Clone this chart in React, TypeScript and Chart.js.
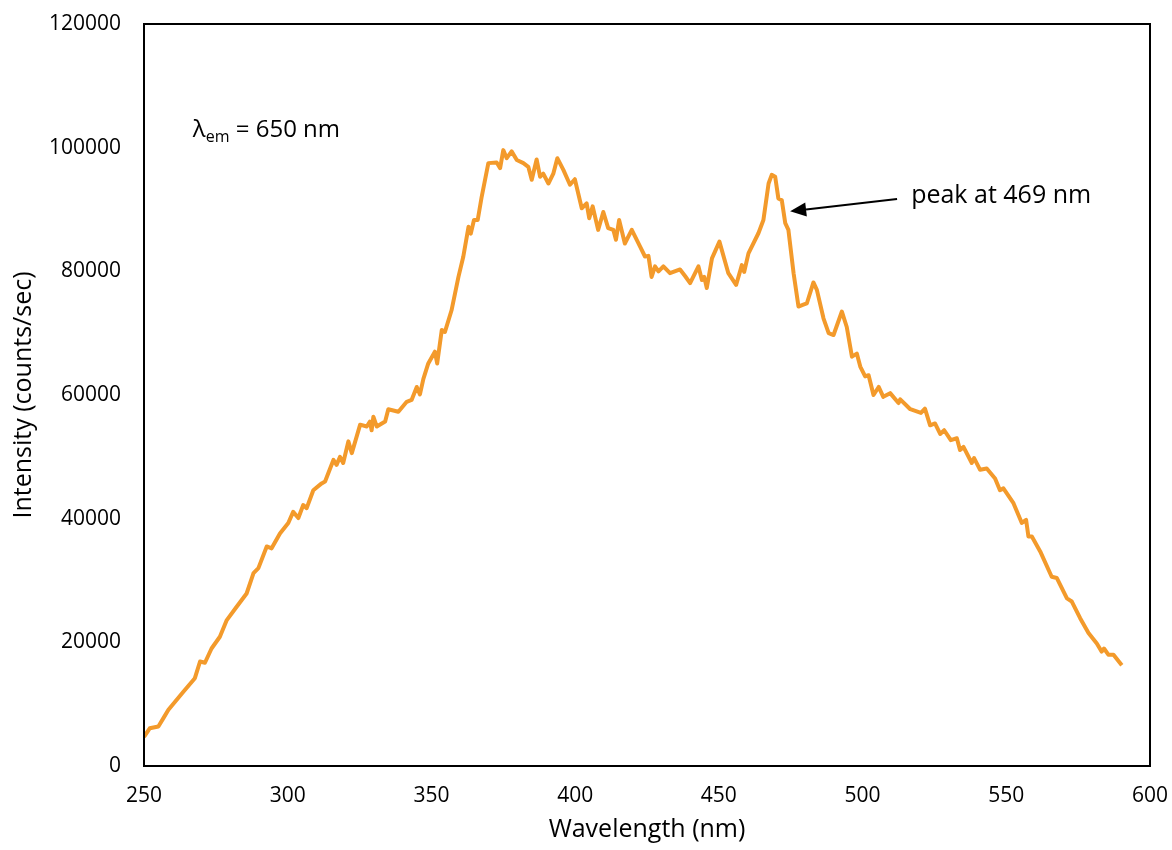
import React, { useEffect, useRef } from "react";
import { Chart, registerables } from "chart.js";

Chart.register(...registerables);

const wavelengths = [
  250, 252, 255, 256.7, 258.5, 263.7, 267.7, 269.5, 271.2, 273.5, 276.4, 278.8, 282.3, 285.7, 288.1, 289.8,
  292.7, 294.4, 297.3, 300.2, 301.9, 303.7, 305.4, 306.6, 308.9, 311.8, 313, 315.9, 317, 318.2, 319.3, 321.1,
  322.3, 325.2, 327.5, 328.6, 329.2, 329.8, 331, 333.9, 335, 338.5, 341.4, 343.1, 344.9, 346, 347.2, 348.9,
  351.2, 352, 353.6, 354.7, 357, 359.4, 361.1, 362.9, 363.7, 364.8, 366.1, 367.5, 369.8, 372.7, 373.9, 375,
  376.2, 377.9, 379.7, 382, 383.7, 384.9, 386.6, 387.8, 388.9, 390.7, 392.4, 393.8, 395.9, 398.2, 399.9, 402.3,
  404, 404.9, 406.1, 408, 409.8, 411.5, 413.3, 414.2, 415.3, 417.3, 419.7, 422.6, 424.3, 425.5, 426.6, 427.8,
  429, 430.7, 433, 436.5, 438.3, 440, 442.9, 444.1, 444.9, 445.8, 447.6, 450.2, 453.3, 456, 458, 458.8,
  460.3, 463.8, 465.5, 467.3, 468.4, 469.6, 470.7, 471.9, 473.1, 474.2, 476, 477.7, 479.4, 480.6, 482.9, 484.1,
  486.4, 488.2, 489.9, 492.8, 494.5, 496.3, 498, 499.2, 500.9, 502.1, 503.8, 505.6, 507.2, 509.6, 512.5, 513.1,
  516.6, 520.3, 521.7, 523.5, 525.2, 527, 528.4, 530.7, 532.8, 533.9, 535.1, 538, 538.8, 540.9, 543.2, 546.1,
  547.8, 549, 552.5, 555.4, 556.9, 557.7, 558.9, 561.8, 565.8, 567.6, 571.1, 572.8, 575.7, 578.6, 581.5, 583.2,
  584, 585.5, 587.3, 590.2,
];

const intensities = [
  4700, 6100, 6400, 7700, 9100, 12000, 14200, 16900, 16700, 19000, 20900, 23600, 25800, 27900, 31200, 32000,
  35500, 35200, 37600, 39300, 41100, 40100, 42200, 41700, 44600, 45700, 46000, 49500, 48700, 50000, 49000, 52500,
  50600, 55200, 54900, 55700, 54300, 56500, 54900, 55700, 57700, 57300, 58900, 59200, 61300, 60100, 62600, 65100,
  67000, 65100, 70500, 70200, 73700, 79100, 82400, 87200, 86100, 88300, 88300, 92100, 97500, 97600, 96700, 99600,
  98300, 99400, 98000, 97500, 96900, 94800, 98100, 95300, 95800, 94200, 95800, 98300, 96400, 94000, 94900, 90200,
  91000, 88600, 90500, 86700, 89600, 87000, 86700, 85100, 88300, 84500, 86700, 84000, 82400, 82500, 79100, 80800,
  80000, 80800, 79700, 80300, 79200, 78100, 80800, 78600, 79100, 77300, 82100, 84800, 79700, 77800, 81000, 79900,
  82900, 86200, 88300, 94200, 95600, 95300, 91800, 91500, 87800, 86700, 79700, 74300, 74600, 74800, 78200, 77000,
  72400, 70000, 69700, 73500, 71000, 66200, 66700, 64600, 63000, 63200, 60000, 61300, 59700, 60300, 58700, 59300,
  57700, 57100, 57800, 55100, 55400, 53700, 54300, 52700, 53000, 51100, 51600, 49000, 49800, 47900, 48100, 46500,
  44600, 44900, 42500, 39300, 39800, 37100, 37100, 34700, 30600, 30400, 27100, 26600, 23900, 21500, 19800, 18500,
  19000, 18000, 18000, 16300,
];

const xMin = 250;
const xMax = 600;
const xStep = 50;
const yMin = 0;
const yMax = 120000;
const yStep = 20000;
const xTitle = "Wavelength (nm)";
const yTitle = "Intensity (counts/sec)";

// annotation anchors (data units)
const lambdaLabelPos = [267, 102800];
const peakTextPos = [516.9, 92200];
const arrowTail = [512, 91700];
const arrowTip = [474.8, 89700];
const peakText = "peak at 469 nm";

const FONT = '"Open Sans", "DejaVu Sans", sans-serif';
const LINE_COLOR = "#F39A2B";
const TEXT_COLOR = "#000";

const annotPlugin = {
  id: "annot",
  afterDraw(chart: any) {
    const { ctx, chartArea, scales } = chart;
    const { left, top, right, bottom } = chartArea;
    const x = scales.x;
    const y = scales.y;
    ctx.save();
    // frame
    ctx.strokeStyle = "#000";
    ctx.lineWidth = 2;
    ctx.strokeRect(left, top, right - left, bottom - top);

    ctx.fillStyle = TEXT_COLOR;
    ctx.textBaseline = "middle";
    ctx.textAlign = "left";
    // lambda label
    let px = x.getPixelForValue(lambdaLabelPos[0]);
    let py = y.getPixelForValue(lambdaLabelPos[1]);
    ctx.font = `24px ${FONT}`;
    ctx.fillText("λ", px, py);
    const w = ctx.measureText("λ").width;
    ctx.font = `16px ${FONT}`;
    ctx.fillText("em", px + w, py + 7);
    const w2 = ctx.measureText("em").width;
    ctx.font = `24px ${FONT}`;
    ctx.fillText(" = 650 nm", px + w + w2, py);

    // peak text
    px = x.getPixelForValue(peakTextPos[0]);
    py = y.getPixelForValue(peakTextPos[1]);
    ctx.font = `25px ${FONT}`;
    ctx.fillText(peakText, px, py);

    // arrow
    const tx = x.getPixelForValue(arrowTail[0]);
    const ty = y.getPixelForValue(arrowTail[1]);
    const hx = x.getPixelForValue(arrowTip[0]);
    const hy = y.getPixelForValue(arrowTip[1]);
    const ang = Math.atan2(hy - ty, hx - tx);
    const headLen = 16;
    const headW = 7;
    const bx = hx - headLen * Math.cos(ang);
    const by = hy - headLen * Math.sin(ang);
    ctx.strokeStyle = "#000";
    ctx.lineWidth = 2;
    ctx.beginPath();
    ctx.moveTo(tx, ty);
    ctx.lineTo(bx, by);
    ctx.stroke();
    ctx.beginPath();
    ctx.moveTo(hx, hy);
    ctx.lineTo(bx + headW * Math.sin(ang), by - headW * Math.cos(ang));
    ctx.lineTo(bx - headW * Math.sin(ang), by + headW * Math.cos(ang));
    ctx.closePath();
    ctx.fill();
    ctx.restore();
  },
};

const zeroPad = (s: any) => {
  s.paddingTop = 0;
  s.paddingBottom = 0;
  s.paddingLeft = 0;
  s.paddingRight = 0;
};

export default function App() {
  const ref = useRef<HTMLCanvasElement | null>(null);
  useEffect(() => {
    if (!ref.current) return;
    const data = wavelengths.map((wl, i) => ({ x: wl, y: intensities[i] }));
    const chart = new Chart(ref.current, {
      type: "line",
      data: {
        datasets: [
          {
            data,
            borderColor: LINE_COLOR,
            borderWidth: 4,
            pointRadius: 0,
            tension: 0,
            fill: false,
            borderJoinStyle: "round",
          },
        ],
      },
      options: {
        animation: false,
        responsive: false,
        maintainAspectRatio: false,
        layout: { padding: { top: 24, right: 22, left: 0, bottom: 0 } },
        plugins: { legend: { display: false }, tooltip: { enabled: false } },
        scales: {
          x: {
            type: "linear",
            min: xMin,
            max: xMax,
            grid: { display: false, drawTicks: false },
            border: { display: false },
            ticks: {
              stepSize: xStep,
              autoSkip: false,
              maxRotation: 0,
              padding: 17,
              color: TEXT_COLOR,
              font: { family: FONT, size: 21 },
              callback: (v: any) => String(v),
            },
            title: {
              display: true,
              text: xTitle,
              color: TEXT_COLOR,
              font: { family: FONT, size: 25 },
              padding: { top: 0, bottom: 5 },
            },
            afterFit: (s: any) => {
              s.height = 84;
              zeroPad(s);
            },
          },
          y: {
            min: yMin,
            max: yMax,
            grid: { display: false, drawTicks: false },
            border: { display: false },
            ticks: {
              stepSize: yStep,
              padding: 23,
              color: TEXT_COLOR,
              font: { family: FONT, size: 21 },
              callback: (v: any) => String(v),
            },
            title: {
              display: true,
              text: yTitle,
              color: TEXT_COLOR,
              font: { family: FONT, size: 25 },
              padding: { top: 9, bottom: 0 },
            },
            afterFit: (s: any) => {
              s.width = 144;
              zeroPad(s);
            },
          },
        },
      },
      plugins: [annotPlugin],
    });
    return () => chart.destroy();
  }, []);
  return (
    <div style={{ position: "absolute", left: 0, top: 0, width: 1172, height: 850, background: "#fff" }}>
      <canvas ref={ref} width={1172} height={850} style={{ display: "block" }} />
    </div>
  );
}
